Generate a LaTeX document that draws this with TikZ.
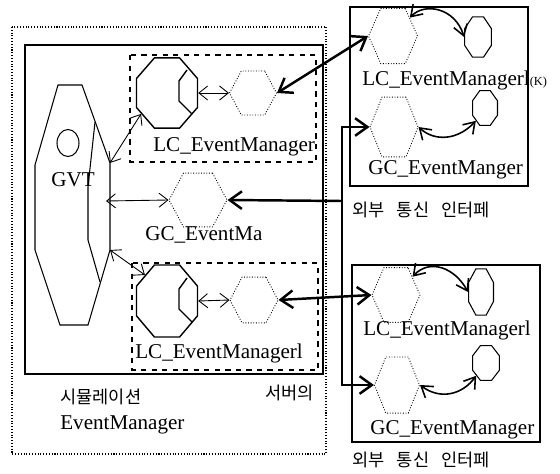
\documentclass[tikz,border=0pt]{standalone}
\usepackage{fontspec}
\setmainfont{Liberation Serif}
\newfontfamily\kr{Noto Sans CJK KR}
\usetikzlibrary{shapes.geometric}
\usetikzlibrary{arrows.meta}

\begin{document}
\begin{tikzpicture}[x=0.02cm, y=-0.02cm,
  hexa/.style={regular polygon, regular polygon sides=6, draw, densely dotted, line width=0.5pt, inner sep=0pt},
  octa/.style={regular polygon, regular polygon sides=8, draw, line width=0.8pt, inner sep=0pt},
  smalloct/.style={regular polygon, regular polygon sides=8, draw, line width=0.6pt, inner sep=0pt},
  thinarrow/.style={line width=0.5pt, >={Straight Barb[length=5pt,width=8pt]}, <->},
  thickarrow/.style={line width=1.4pt, >={Straight Barb[length=7pt,width=10pt]}, <->},
  busline/.style={line width=1.4pt, >={Straight Barb[length=7pt,width=10pt]}},
  curvearrow/.style={line width=0.9pt, >={Straight Barb[length=6pt,width=8pt]}, <->},
  lbl/.style={font=\fontsize{12}{14}\selectfont, inner sep=0pt, anchor=west},
  krlbl/.style={font=\kr\fontsize{10}{12}\selectfont, inner sep=0pt, anchor=west}
]
\useasboundingbox (0,0) rectangle (560,473);

% simulation server
\draw[densely dotted, line width=0.6pt] (12,27) rectangle (326,454);
\draw[line width=0.9pt] (25,45) rectangle (323,374);
\draw[dashed, line width=0.9pt] (130,55) rectangle (316,162);
\draw[dashed, line width=0.9pt] (132,263) rectangle (318,370);

% GVT
\draw[line width=0.6pt] (58,85) -- (82,85) -- (110,163) -- (110,250) -- (88,325)
  -- (60,325) -- (35,250) -- (35,165) -- cycle;
\draw[line width=0.6pt] (95,122) -- (88,187) -- (88,240) -- (100,282);
\draw[line width=0.6pt] (68,143) ellipse [x radius=0.22cm, y radius=0.27cm];
\node[lbl, anchor=center] (gvt) at (73,180) {GVT};
\coordinate (gvtNE) at (110,163);
\coordinate (gvtE) at (106,201);
\coordinate (gvtSE) at (110,250);

\node[octa, minimum size=1.32cm, yscale=1.15] (lcu) at (167,93) {};
\node[octa, minimum size=1.32cm, yscale=1.18] (lcl) at (167,301) {};
\foreach \o in {lcu,lcl}
  \draw[line width=0.8pt] ([shift={(20,-23)}]\o.center) -- ([shift={(12,-12)}]\o.center)
    -- ([shift={(12,8)}]\o.center) -- ([shift={(25,21)}]\o.center);
\node[hexa, minimum size=0.94cm, yscale=1.08] (lhu) at (253,93) {};
\node[hexa, minimum size=0.96cm, yscale=1.1] (lhl) at (254,300) {};
\node[hexa, minimum size=1.16cm, yscale=1.07] (gcma) at (198,200) {};

\node[lbl] (lcuname) at (153,147) {LC\_EventManager};
\node[lbl] (gcmaname) at (145,235) {GC\_EventMa};
\node[lbl] (lclname) at (135,353) {LC\_EventManagerl};
\node[krlbl] (simname) at (60,397) {시뮬레이션};
\node[krlbl] (srvname) at (265,393) {서버의};
\node[lbl] (emname) at (60,425) {EventManager};

% stub interface
\draw[line width=0.6pt] (350,7) rectangle (528,186);
\node[hexa, minimum size=0.98cm, yscale=1.3] (hxa) at (393,36) {};
\node[hexa, minimum size=0.96cm, yscale=1.44] (hxb) at (394,127) {};
\node[smalloct, minimum size=0.58cm, yscale=1.5] (oa) at (478,37) {};
\node[smalloct, minimum size=0.54cm, yscale=1.4] (ob) at (485,108) {};
\node[lbl] (hxaname) at (362,80) {LC\_EventManagerl{\scriptsize(K)}};
\node[lbl] (hxbname) at (368,170) {GC\_EventManger};
\node[krlbl] (stubname) at (352,210) {외부\hspace{0.7em}통신\hspace{0.7em}인터페};

% external interface
\draw[line width=0.6pt] (352,265) rectangle (540,442);
\node[hexa, minimum size=0.96cm, yscale=1.32] (hxc) at (396,295) {};
\node[hexa, minimum size=0.9cm, yscale=1.44] (hxd) at (397,385) {};
\node[smalloct, minimum size=0.54cm, yscale=1.85] (oc) at (481,292) {};
\node[smalloct, minimum size=0.58cm, yscale=1.3] (od) at (486,363) {};
\node[lbl] (hxcname) at (363,330) {LC\_EventManagerl};
\node[lbl] (hxdname) at (370,430) {GC\_EventManager};
\node[krlbl] (extname) at (352,460) {외부\hspace{0.7em}통신\hspace{0.7em}인터페};

% connectors
\draw[thinarrow] (gvtNE) -- (lcu.215);
\draw[thinarrow] (gvtE) -- (gcma.west);
\draw[thinarrow] (gvtSE) -- (lcl.135);
\draw[thinarrow] (lcu.east) -- (lhu.west);
\draw[thinarrow] (lcl.east) -- (lhl.west);
\draw[thickarrow] (lhu.east) -- (hxa.west);
\draw[thickarrow] (lhl.east) -- (hxc.west);

\coordinate (busM) at (342,201);
\draw[busline, <-] (gcma.east) -- (busM);
\draw[busline, ->] (busM) |- (hxb.west);
\draw[busline, ->] (busM) |- (hxd.west);

\draw[curvearrow] (hxa.40) .. controls (425,2) and (455,8) .. (oa.west);
\draw[curvearrow] (hxb.east) .. controls (435,142) and (458,140) .. (ob.225);
\draw[curvearrow] (hxc.40) .. controls (430,258) and (455,268) .. (oc.west);
\draw[curvearrow] (hxd.east) .. controls (440,400) and (462,395) .. (od.225);
\end{tikzpicture}
\end{document}
